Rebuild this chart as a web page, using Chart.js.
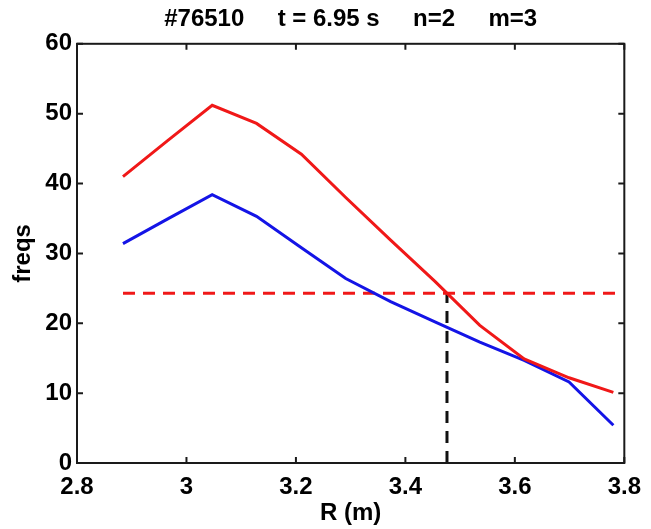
<!DOCTYPE html>
<html>
<head>
<meta charset="utf-8">
<script src="https://cdn.jsdelivr.net/npm/chart.js@4/dist/chart.umd.min.js"></script>
<style>
    body { margin: 0; background: #fff; }
    .chart-container { width: 651px; height: 529px; position: relative; }
</style>
</head>
<body>
<div class="chart-container">
    <canvas id="chart"></canvas>
</div>
<script>
// values
const rValues = [2.884, 2.965, 3.047, 3.128, 3.210, 3.291, 3.373, 3.454, 3.536, 3.617, 3.699, 3.780];
const redFreqs = [41.0, 46.1, 51.2, 48.6, 44.2, 38.0, 31.9, 26.0, 19.7, 14.9, 12.2, 10.1];
const blueFreqs = [31.4, 34.9, 38.4, 35.3, 30.8, 26.4, 23.1, 20.2, 17.3, 14.7, 11.6, 5.4];
const thresholdFreq = 24.3;
const thresholdR = [2.884, 3.783];
const crossR = 3.476;
const xTicks = [2.8, 3, 3.2, 3.4, 3.6, 3.8];
const yTicks = [0, 10, 20, 30, 40, 50, 60];

const FONT = 'Liberation Sans, Arial, Helvetica, sans-serif';

const toPoints = (xs, ys) => xs.map((x, i) => ({ x: x, y: ys[i] }));

// box round the plot, with ticks pointing inward on all four sides
const boxPlugin = {
    id: 'boxTicks',
    afterDatasetsDraw(chart) {
        const { ctx, chartArea: a, scales } = chart;
        const len = 6;
        ctx.save();
        ctx.strokeStyle = '#1a1a1a';
        ctx.lineWidth = 2;
        ctx.beginPath();
        scales.x.ticks.forEach((t) => {
            const px = scales.x.getPixelForValue(t.value);
            ctx.moveTo(px, a.bottom);
            ctx.lineTo(px, a.bottom - len);
            ctx.moveTo(px, a.top);
            ctx.lineTo(px, a.top + len);
        });
        scales.y.ticks.forEach((t) => {
            const py = scales.y.getPixelForValue(t.value);
            ctx.moveTo(a.left, py);
            ctx.lineTo(a.left + len, py);
            ctx.moveTo(a.right, py);
            ctx.lineTo(a.right - len, py);
        });
        ctx.stroke();
        ctx.strokeRect(a.left, a.top, a.right - a.left, a.bottom - a.top);
        ctx.restore();
    }
};

new Chart(document.getElementById('chart'), {
    type: 'line',
    data: {
        datasets: [
            {
                data: toPoints(rValues, redFreqs),
                borderColor: '#f01818',
                borderWidth: 3,
            },
            {
                data: toPoints(rValues, blueFreqs),
                borderColor: '#1414e6',
                borderWidth: 3,
            },
            {
                data: toPoints(thresholdR, [thresholdFreq, thresholdFreq]),
                borderColor: '#f01818',
                borderWidth: 3,
                borderDash: [12, 8],
            },
            {
                data: toPoints([crossR, crossR], [0, thresholdFreq]),
                borderColor: '#111',
                borderWidth: 3,
                borderDash: [12, 8],
            },
        ]
    },
    options: {
        responsive: true,
        maintainAspectRatio: false,
        animation: false,
        layout: { padding: { left: 0, right: 20, top: 0, bottom: 0 } },
        elements: {
            point: { radius: 0 },
            line: { tension: 0, borderCapStyle: 'butt' }
        },
        plugins: {
            legend: { display: false },
            tooltip: { enabled: false },
            title: {
                display: true,
                fullSize: false,
                text: '#76510     t = 6.95 s     n=2     m=3',
                color: '#000',
                font: { family: FONT, size: 24, weight: 'bold', lineHeight: 1.2 },
                padding: { top: 5, bottom: 10 }
            }
        },
        scales: {
            x: {
                type: 'linear',
                min: 2.8,
                max: 3.8,
                afterBuildTicks: (scale) => { scale.ticks = xTicks.map((v) => ({ value: v })); },
                afterFit: (scale) => { scale.height = 66; },
                grid: { display: false, drawTicks: false },
                border: { display: false },
                ticks: {
                    color: '#000',
                    padding: 10,
                    maxRotation: 0,
                    font: { family: FONT, size: 24, weight: 'bold' },
                    callback: (v) => String(v)
                },
                title: {
                    display: true,
                    text: 'R (m)',
                    color: '#000',
                    font: { family: FONT, size: 24, weight: 'bold', lineHeight: 1 },
                    padding: { top: 0, bottom: 4 }
                }
            },
            y: {
                min: 0,
                max: 60,
                afterBuildTicks: (scale) => { scale.ticks = yTicks.map((v) => ({ value: v })); },
                afterFit: (scale) => { scale.width = 77; },
                grid: { display: false, drawTicks: false },
                border: { display: false },
                ticks: {
                    color: '#000',
                    padding: 5,
                    font: { family: FONT, size: 24, weight: 'bold' }
                },
                title: {
                    display: true,
                    text: 'freqs',
                    color: '#000',
                    font: { family: FONT, size: 24, weight: 'bold', lineHeight: 1 },
                    padding: { top: 11, bottom: 0 }
                }
            }
        }
    },
    plugins: [boxPlugin]
});
</script>
</body>
</html>
